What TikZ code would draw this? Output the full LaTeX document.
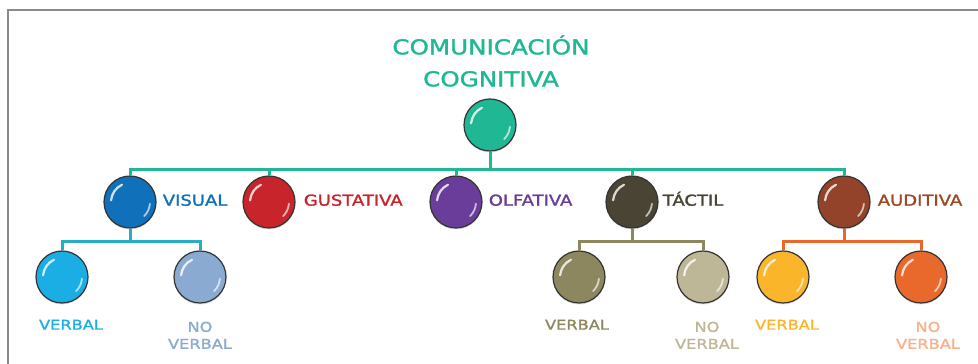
\documentclass[tikz,border=0pt]{standalone}
\usepackage{fontspec}
\newfontfamily\techfont[FakeStretch=1.2, FakeBold=1.6]{DejaVu Sans}
\usetikzlibrary{positioning,shadows,backgrounds}

\definecolor{cogteal}{HTML}{20B794}
\definecolor{visblue}{HTML}{1070BA}
\definecolor{gusred}{HTML}{C8242B}
\definecolor{olfpurple}{HTML}{6A3D9A}
\definecolor{tacdark}{HTML}{4A4434}
\definecolor{audbrown}{HTML}{93432A}
\definecolor{viscyan}{HTML}{1AAEE5}
\definecolor{vislight}{HTML}{8AAAD2}
\definecolor{visline}{HTML}{27AEC4}
\definecolor{tacolive}{HTML}{8D8760}
\definecolor{tacbeige}{HTML}{BDB797}
\definecolor{audyellow}{HTML}{FBB52B}
\definecolor{audorange}{HTML}{E8692B}
\definecolor{audpeach}{HTML}{F8B08A}
\definecolor{framegray}{HTML}{8A8A8E}

% glossy reflections on a bubble
\newcommand{\shine}[1]{%
  \draw[white, opacity=0.8, line width=2.2pt, line cap=round]
    ([shift={(175:19pt)}]#1.center) arc[start angle=175, end angle=115, radius=19pt];
  \draw[white, opacity=0.65, line width=1.8pt, line cap=round]
    ([shift={(-5:20pt)}]#1.center) arc[start angle=-5, end angle=-45, radius=20pt];
}

\begin{document}
\begin{tikzpicture}[x=1pt, y=1pt,
    bubble/.style = {circle, draw=black!80, line width=1.2pt, minimum size=52pt,
                     inner sep=0pt, drop shadow={opacity=0.25, shadow xshift=0pt, shadow yshift=-1.5pt}},
    branch/.style = {font=\techfont\fontsize{15}{18}\selectfont, inner sep=0pt,
                     text height=0.73em, text depth=0pt},
    leaf/.style   = {font=\techfont\fontsize{13.5}{17}\selectfont, inner sep=0pt, align=center, anchor=north},
    link/.style   = {line width=3pt}]
  \useasboundingbox (0,0) rectangle (978,364);
  \draw[framegray, line width=2.5pt] (8,0) -- (8,354) -- (978,354);

  % title and root
  \node[text=cogteal, font=\techfont\fontsize{20.5}{32}\selectfont, align=center] (title) at (491,303)
    {COMUNICACIÓN\\COGNITIVA};
  \node[bubble, fill=cogteal] (root) at (490,239) {};

  % second level
  \node[bubble, fill=visblue] (vis) at (130,162) {};
  \node[bubble, fill=gusred] (gus) at (269,162) {};
  \node[bubble, fill=olfpurple] (olf) at (456,162) {};
  \node[bubble, fill=tacdark] (tac) at (632,162) {};
  \node[bubble, fill=audbrown] (aud) at (844,162) {};

  \node[branch, text=visblue, right=6pt of vis, anchor=west] (visT) {VISUAL};
  \node[branch, text=gusred, right=8pt of gus, anchor=west] (gusT) {GUSTATIVA};
  \node[branch, text=olfpurple, right=6pt of olf, anchor=west] (olfT) {OLFATIVA};
  \node[branch, text=tacdark, right=4pt of tac, anchor=west] (tacT) {TÁCTIL};
  \node[branch, text=audbrown!90!orange, right=7pt of aud, anchor=west] (audT) {AUDITIVA};

  % third level
  \node[bubble, fill=viscyan] (visV) at (62,87) {};
  \node[bubble, fill=vislight] (visN) at (200,87) {};
  \node[bubble, fill=tacolive] (tacV) at (579,87) {};
  \node[bubble, fill=tacbeige] (tacN) at (703,87) {};
  \node[bubble, fill=audyellow] (audV) at (783,87) {};
  \node[bubble, fill=audorange] (audN) at (921,87) {};

  \node[leaf, text=viscyan, below=16pt of visV, xshift=9pt] (visVT) {VERBAL};
  \node[leaf, text=vislight, below=18pt of visN] (visNT) {NO\\VERBAL};
  \node[leaf, text=tacolive, below=16pt of tacV, xshift=-2pt] (tacVT) {VERBAL};
  \node[leaf, text=tacbeige, below=18pt of tacN, xshift=4pt] (tacNT) {NO\\VERBAL};
  \node[leaf, text=audyellow, below=16pt of audV, xshift=4pt] (audVT) {VERBAL};
  \node[leaf, text=audpeach, below=18pt of audN, xshift=7pt] (audNT) {NO\\VERBAL};

  % connectors
  \coordinate (bar) at (490,194);
  \coordinate (visbar) at (130,122);
  \coordinate (tacbar) at (632,122);
  \coordinate (audbar) at (844,122);
  \begin{scope}[on background layer]
  \draw[link, cogteal] (root.south) -- (bar);
  \foreach \k in {vis,gus,olf,tac,aud}
    \draw[link, cogteal] (bar) -| (\k.north);
  \draw[link, visline] (vis.south) -- (visbar);
  \draw[link, visline] (visbar) -| (visV.north);
  \draw[link, visline] (visbar) -| (visN.north);
  \draw[link, tacolive] (tac.south) -- (tacbar);
  \draw[link, tacolive] (tacbar) -| (tacV.north);
  \draw[link, tacolive] (tacbar) -| (tacN.north);
  \draw[link, audorange] (aud.south) -- (audbar);
  \draw[link, audorange] (audbar) -| (audV.north);
  \draw[link, audorange] (audbar) -| (audN.north);
  \end{scope}

  \foreach \k in {root,vis,gus,olf,tac,aud,visV,visN,tacV,tacN,audV,audN}
    {\shine{\k}}
\end{tikzpicture}
\end{document}
